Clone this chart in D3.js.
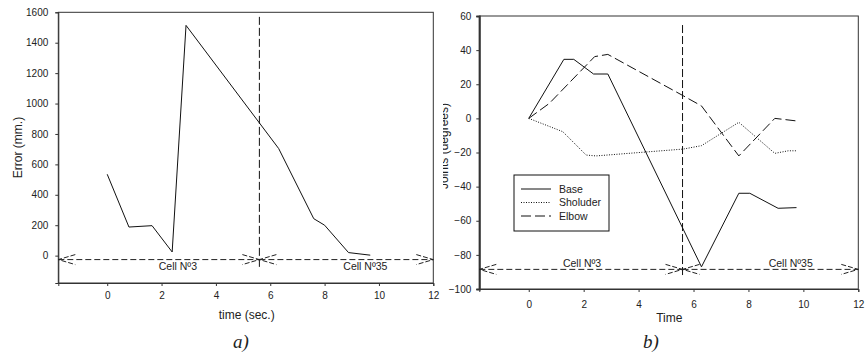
<!DOCTYPE html>
<html>
<head>
<meta charset="utf-8">
<script src="https://cdn.jsdelivr.net/npm/d3@7"></script>
<style>
  body { margin: 0; background: #fff; }
  svg text { font-family: "Liberation Sans", Arial, sans-serif; fill: #222; }
  .axis path, .axis line { stroke: #333; }
  .axis text { font-size: 10px; }
</style>
</head>
<body>
<svg id="chart" width="867" height="356"></svg>
<script>
// ---- data ----
// panel a) : positioning error vs time
const timeA = [0, 0.8, 1.65, 2.39, 2.9, 6.31, 7.6, 8.0, 8.88, 9.68];
const errorA = [535, 188, 197, 24, 1514, 704, 243, 200, 20, 3];
const yTicksA = [0, 200, 400, 600, 800, 1000, 1200, 1400, 1600];

// panel b) : joint angles vs time
const timeBase = [0, 1.28, 1.64, 2.36, 2.88, 6.29, 7.65, 8.05, 9.08, 9.75];
const base = [0, 34.6, 34.6, 26, 26, -87, -43.9, -43.9, -52.7, -52.3];
const timeShoulder = [0, 1.24, 2.09, 2.45, 5.62, 6.29, 7.65, 8.96, 9.45, 9.75];
const shoulder = [0, -7.8, -21.5, -22, -18, -16, -2.3, -20.5, -19, -19];
const timeElbow = [0, 0.75, 2.4, 2.88, 5.62, 6.29, 7.65, 8.96, 9.75];
const elbow = [0, 8.8, 36.2, 37.5, 13.3, 7.3, -22, 0, -1.5];
const yTicksB = [-100, -80, -60, -40, -20, 0, 20, 40, 60];

const xTicks = [0, 2, 4, 6, 8, 10, 12];
const cellSwitch = 5.6;          // time when robot moves from cell 3 to cell 35
const cellNames = ["Cell Nº3", "Cell Nº35"];

const svg = d3.select("#chart");

function panel(opt) {
  const x = d3.scaleLinear().domain([-1.8, 12]).range(opt.xRange);
  const y = d3.scaleLinear().domain(opt.yDomain).range(opt.yRange);
  const g = svg.append("g");

  // frame
  g.append("rect")
    .attr("x", opt.xRange[0]).attr("y", opt.yRange[1])
    .attr("width", opt.xRange[1] - opt.xRange[0])
    .attr("height", opt.yRange[0] - opt.yRange[1])
    .attr("fill", "none").attr("stroke", "#333").attr("stroke-width", 1);

  g.append("g").attr("class", "axis")
    .attr("transform", "translate(" + opt.xRange[0] + ",0)")
    .call(d3.axisLeft(y).tickValues(opt.yTicks).tickFormat(d3.format("d")).tickSize(3).tickPadding(opt.yPad))
    .call(s => s.select(".domain").attr("stroke", opt.leftColor).attr("stroke-width", opt.leftWidth));

  g.append("g").attr("class", "axis")
    .attr("transform", "translate(0," + opt.yRange[0] + ")")
    .call(d3.axisBottom(x).tickValues(xTicks).tickSize(3).tickPadding(opt.xPad));

  // vertical cell boundary
  g.append("line")
    .attr("x1", x(cellSwitch)).attr("x2", x(cellSwitch))
    .attr("y1", y(opt.vLine[0])).attr("y2", y(opt.vLine[1]))
    .attr("stroke", "#111").attr("stroke-dasharray", "8,3");

  // double-headed arrows for the two cells
  const spans = [[-1.8, cellSwitch], [cellSwitch, 12]];
  const ay = y(opt.arrowY);
  spans.forEach(sp => {
    const x1 = x(sp[0]), x2 = x(sp[1]);
    const a = g.append("g").attr("stroke", "#222").attr("stroke-dasharray", "6,3").attr("fill", "none");
    a.append("line").attr("x1", x1).attr("x2", x2).attr("y1", ay).attr("y2", ay);
    [[x1, 1], [x2, -1]].forEach(([tx, d]) => {
      a.append("path").attr("d",
        "M" + (tx + d * 17) + "," + (ay - 5) + "L" + tx + "," + ay + "L" + (tx + d * 17) + "," + (ay + 5))
        .attr("stroke-dasharray", "5,2");
    });
  });

  g.selectAll(".cell").data(cellNames).enter().append("text")
    .attr("x", (d, i) => x(opt.cellX[i]))
    .attr("y", opt.cellY)
    .attr("text-anchor", "middle")
    .attr("font-size", "10.5px")
    .text(d => d);

  return { x, y, g };
}

// ---- panel a ----
const A = panel({
  xRange: [58.3, 433.3], yDomain: [-180, 1600], yRange: [283, 12.3],
  yTicks: yTicksA, yPad: 7, xPad: 6, leftColor: "#333", leftWidth: 1,
  vLine: [1570, -75], arrowY: -26, cellX: [2.6, 9.5], cellY: 270
});
A.g.append("path")
  .datum(timeA.map((t, i) => [t, errorA[i]]))
  .attr("fill", "none").attr("stroke", "#111").attr("stroke-width", 1)
  .attr("d", d3.line().x(d => A.x(d[0])).y(d => A.y(d[1])));
A.g.append("text").attr("x", 246.7).attr("y", 319).attr("text-anchor", "middle")
  .attr("font-size", "12px").text("time (sec.)");
A.g.append("text").attr("transform", "translate(22,147.5) rotate(-90)")
  .attr("text-anchor", "middle").attr("font-size", "12px").text("Error (mm.)");
A.g.append("text").attr("x", 241).attr("y", 348).attr("text-anchor", "middle")
  .style("font-family", "'Liberation Serif', 'Times New Roman', serif")
  .style("font-style", "italic").attr("font-size", "19px").text("a)");

// ---- panel b ----
const B = panel({
  xRange: [479.3, 858.3], yDomain: [-100, 60], yRange: [289, 16],
  yTicks: yTicksB, yPad: 5, xPad: 9, leftColor: "#666", leftWidth: 2,
  vLine: [54.7, -92.8], arrowY: -88.5, cellX: [1.94, 9.54], cellY: 267
});
const series = [
  { name: "Base", t: timeBase, v: base, dash: null },
  { name: "Sholuder", t: timeShoulder, v: shoulder, dash: "1,1.5" },
  { name: "Elbow", t: timeElbow, v: elbow, dash: "10,4" }
];
series.forEach(s => {
  B.g.append("path")
    .datum(s.t.map((t, i) => [t, s.v[i]]))
    .attr("fill", "none").attr("stroke", "#111").attr("stroke-width", 1)
    .attr("stroke-dasharray", s.dash)
    .attr("d", d3.line().x(d => B.x(d[0])).y(d => B.y(d[1])));
});
B.g.append("text").attr("x", 669.3).attr("y", 322).attr("text-anchor", "middle")
  .attr("font-size", "12px").text("Time");
// y label is cut off by the left edge of the panel in the source figure
svg.append("clipPath").attr("id", "clipB").append("rect")
  .attr("x", 443).attr("y", 0).attr("width", 40).attr("height", 356);
B.g.append("g").attr("clip-path", "url(#clipB)")
  .append("text")
  .attr("transform", "translate(447.5,146) rotate(-90)")
  .attr("text-anchor", "middle").attr("font-size", "12px").text("Joints (degrees)");
B.g.append("text").attr("x", 651).attr("y", 348).attr("text-anchor", "middle")
  .style("font-family", "'Liberation Serif', 'Times New Roman', serif")
  .style("font-style", "italic").attr("font-size", "19px").text("b)");

// legend
const lg = B.g.append("g").attr("transform", "translate(514,175)");
lg.append("rect").attr("width", 95).attr("height", 56)
  .attr("fill", "#fff").attr("stroke", "#111");
series.forEach((s, i) => {
  const ly = 14 + i * 13.5;
  lg.append("line").attr("x1", 7).attr("x2", 37).attr("y1", ly).attr("y2", ly)
    .attr("stroke", "#111").attr("stroke-dasharray", s.dash);
  lg.append("text").attr("x", 45).attr("y", ly + 3.5).attr("font-size", "10.5px").text(s.name);
});
</script>
</body>
</html>
